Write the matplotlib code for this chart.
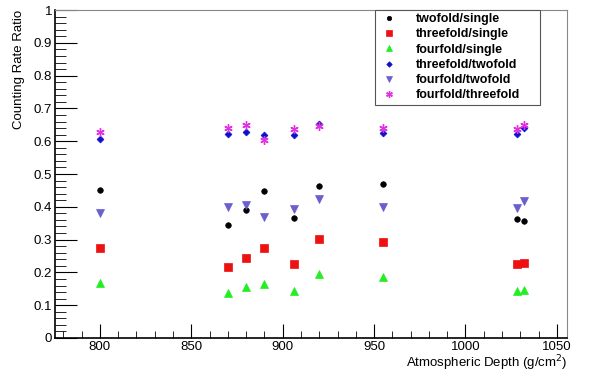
import matplotlib
matplotlib.use('Agg')
import matplotlib.pyplot as plt
from matplotlib.ticker import MultipleLocator

plt.rcParams['font.family'] = ['Liberation Sans', 'DejaVu Sans']

depth = [800, 870, 880, 890, 906, 920, 955, 1028, 1032]

twofold_single = [0.451, 0.345, 0.389, 0.447, 0.365, 0.464, 0.470, 0.363, 0.358]
threefold_single = [0.273, 0.215, 0.243, 0.273, 0.225, 0.303, 0.292, 0.226, 0.228]
fourfold_single = [0.169, 0.136, 0.156, 0.164, 0.142, 0.194, 0.186, 0.142, 0.146]
threefold_twofold = [0.607, 0.622, 0.627, 0.619, 0.618, 0.654, 0.624, 0.622, 0.639]
fourfold_twofold = [0.380, 0.398, 0.407, 0.370, 0.392, 0.423, 0.400, 0.397, 0.417]
fourfold_threefold = [0.627, 0.641, 0.649, 0.603, 0.636, 0.646, 0.639, 0.638, 0.650]

series = [
    ('twofold/single', twofold_single, 'o', 'black', 4),
    ('threefold/single', threefold_single, 's', '#ee1111', 6),
    ('fourfold/single', fourfold_single, '^', '#22ee22', 6),
    ('threefold/twofold', threefold_twofold, 'D', '#1010cc', 3.5),
    ('fourfold/twofold', fourfold_twofold, 'v', '#6a5fd0', 6),
    ('fourfold/threefold', fourfold_threefold, (6, 2, 0), '#e030e0', 6),
]

fig = plt.figure(figsize=(5.89, 3.72), dpi=100)
ax = fig.add_axes([0.0934, 0.0914, 0.8692, 0.8816])

for label, vals, mk, col, ms in series:
    ax.plot(depth, vals, linestyle='none', marker=mk, color=col,
            markersize=ms, markeredgewidth=1.0 if mk == (6, 2, 0) else 0.5,
            markeredgecolor=col, label=label)

ax.set_xlim(775.5, 1055.5)
ax.set_ylim(0, 1)
ax.xaxis.set_major_locator(MultipleLocator(50))
ax.xaxis.set_minor_locator(MultipleLocator(10))
ax.yaxis.set_major_locator(MultipleLocator(0.1))
ax.yaxis.set_minor_locator(MultipleLocator(0.02))
ax.yaxis.set_major_formatter(plt.FuncFormatter(lambda v, p: '0' if v == 0 else ('1' if v == 1 else '%g' % v)))

ax.tick_params(which='both', direction='in', labelsize=9.5, top=False, right=False)
ax.tick_params(which='major', axis='y', length=16)
ax.tick_params(which='minor', axis='y', length=8)
ax.tick_params(which='major', axis='x', length=10)
ax.tick_params(which='minor', axis='x', length=5)
ax.tick_params(axis='x', pad=2)
ax.tick_params(axis='y', pad=2)

for s in ['top', 'right']:
    ax.spines[s].set_color('#888888')
for s in ['left', 'bottom']:
    ax.spines[s].set_color('black')
    ax.spines[s].set_linewidth(1.2)

ax.set_ylabel('Counting Rate Ratio', fontsize=9.5, ha='right')
ax.yaxis.set_label_coords(-0.058, 1.0)
ax.set_xlabel('Atmospheric Depth (g/cm$^2$)', fontsize=9.5, ha='right')
ax.xaxis.set_label_coords(1.0, -0.048)

leg = ax.legend(loc='upper left', bbox_to_anchor=(0.626, 1.0, 0.321, 0.0), mode='expand',
                prop={'weight': 'bold', 'size': 9}, fancybox=False, framealpha=1,
                edgecolor='#555555', borderaxespad=0, labelspacing=0.26,
                handlelength=1.6, handletextpad=1.4, borderpad=0.25, markerscale=0.8)
leg.get_frame().set_linewidth(0.8)

fig.savefig('out.png', dpi=100)
